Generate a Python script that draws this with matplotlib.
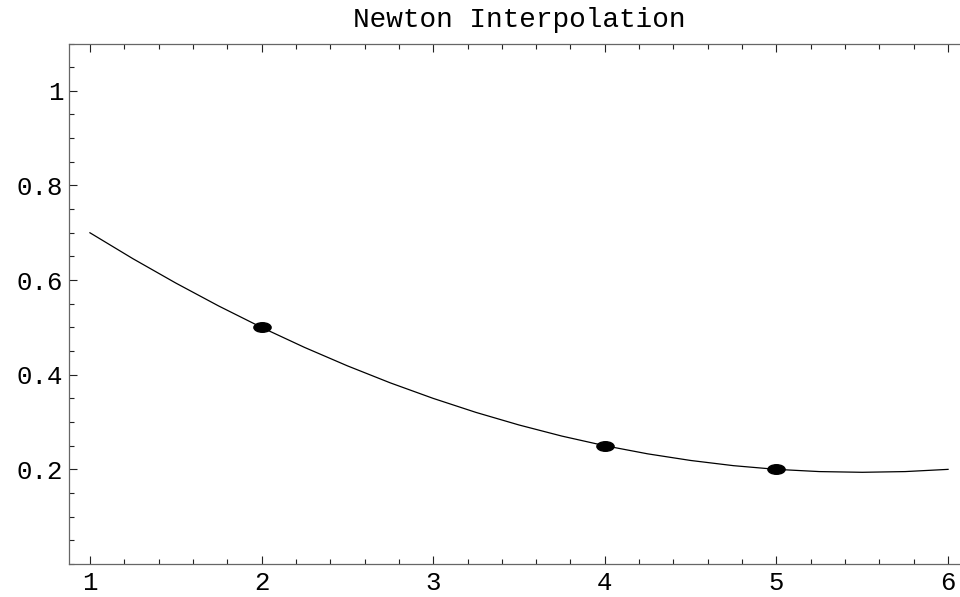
import numpy as np
import matplotlib
matplotlib.use("Agg")
import matplotlib.pyplot as plt
from matplotlib.path import Path
from matplotlib.transforms import Affine2D
from matplotlib.ticker import MultipleLocator

# interpolation nodes
node_x = [2, 4, 5]
node_y = [0.5, 0.25, 0.2]

# curve values
curve_x = [1, 1.25, 1.5, 1.75, 2, 2.25, 2.5, 2.75, 3, 3.25, 3.5,
           3.75, 4, 4.25, 4.5, 4.75, 5, 5.25, 5.5, 5.75, 6]
curve_y = [0.7, 0.6453, 0.5938, 0.5453, 0.5, 0.4578, 0.4188, 0.3828, 0.35, 0.3203, 0.2938,
           0.2703, 0.25, 0.2328, 0.2188, 0.2078, 0.2, 0.1953, 0.1938, 0.1953, 0.2]

x_ticks = [1, 2, 3, 4, 5, 6]
y_ticks = [0.2, 0.4, 0.6, 0.8, 1.0]
y_labels = ["0.2", "0.4", "0.6", "0.8", "1"]

mono = "Liberation Mono"

fig = plt.figure(figsize=(9.6, 5.97), dpi=100)
# right edge of the frame falls just outside the picture, as in the original
ax = fig.add_axes([69 / 960, 1 - 564 / 597, 900 / 960, 520.5 / 597])

ax.plot(curve_x, curve_y, color="black", lw=0.9)

ellipse = Path.unit_circle().transformed(Affine2D().scale(1.8, 1.0))
ax.plot(node_x, node_y, linestyle="none", marker=ellipse, markersize=12.4,
        color="black")

ax.set_xlim(0.878, 6.122)
ax.set_ylim(0, 1.1)

ax.set_xticks(x_ticks)
ax.set_xticklabels([str(t) for t in x_ticks])
ax.set_yticks(y_ticks)
ax.set_yticklabels(y_labels)
ax.xaxis.set_minor_locator(MultipleLocator(0.2))
ax.yaxis.set_minor_locator(MultipleLocator(0.05))

ax.tick_params(which="both", direction="in", top=True, right=True,
               color="#222222", width=0.8)
ax.tick_params(which="major", length=6, labelsize=18.5, pad=4)
ax.tick_params(axis="x", which="major", pad=5)
ax.tick_params(which="minor", length=3.5)
for lab in ax.get_xticklabels() + ax.get_yticklabels():
    lab.set_family(mono)

for sp in ax.spines.values():
    sp.set_color("#666666")
    sp.set_linewidth(0.9)

ax.set_title("Newton Interpolation", fontfamily=mono, fontsize=20, pad=12)

fig.savefig("out.png", dpi=100)
